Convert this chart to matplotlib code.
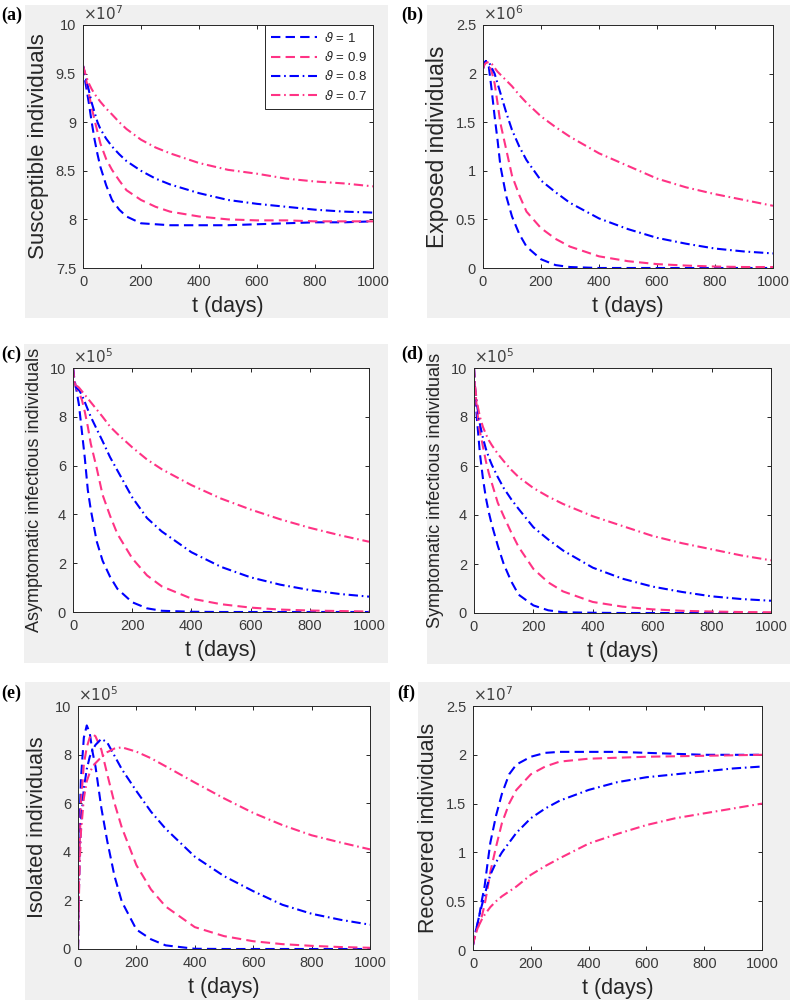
import matplotlib
matplotlib.use("Agg")
import matplotlib.pyplot as plt
from matplotlib.patches import Rectangle
from matplotlib.ticker import FuncFormatter

# time grid (days), shared by all curves
t = [0, 2, 5, 10, 20, 30, 40, 50, 60, 80, 100, 125, 150, 200, 250, 300,
     400, 500, 600, 700, 800, 900, 1000]

labels = [r'$\vartheta$ = 1', r'$\vartheta$ = 0.9', r'$\vartheta$ = 0.8', r'$\vartheta$ = 0.7']

# (a) susceptible, x1e7
S_1 = [9.58, 9.54, 9.47, 9.38, 9.2, 9.0, 8.82, 8.67, 8.54, 8.35, 8.2, 8.1, 8.03, 7.96, 7.95, 7.94,
       7.94, 7.94, 7.95, 7.96, 7.97, 7.97, 7.98]
S_09 = [9.58, 9.56, 9.52, 9.45, 9.3, 9.15, 9.02, 8.9, 8.78, 8.62, 8.51, 8.4, 8.3, 8.2, 8.13, 8.08,
        8.03, 8.0, 7.99, 7.99, 7.98, 7.98, 7.98]
S_08 = [9.58, 9.56, 9.52, 9.45, 9.33, 9.2, 9.1, 9.0, 8.93, 8.83, 8.75, 8.67, 8.6, 8.5, 8.42, 8.36,
        8.27, 8.2, 8.16, 8.13, 8.1, 8.08, 8.07]
S_07 = [9.58, 9.56, 9.53, 9.48, 9.4, 9.34, 9.29, 9.25, 9.21, 9.14, 9.08, 9.0, 8.93, 8.82, 8.74, 8.68,
        8.58, 8.51, 8.47, 8.42, 8.39, 8.37, 8.34]

# (b) exposed, x1e6
E_1 = [2.05, 2.08, 2.11, 2.13, 2.07, 1.83, 1.56, 1.32, 1.05, 0.74, 0.53, 0.35, 0.22, 0.09, 0.03, 0.01,
       0.0, 0.0, 0.0, 0.0, 0.0, 0.0, 0.0]
E_09 = [2.05, 2.08, 2.1, 2.12, 2.1, 2.02, 1.9, 1.7, 1.49, 1.22, 0.95, 0.75, 0.58, 0.41, 0.3, 0.22,
        0.12, 0.07, 0.04, 0.025, 0.015, 0.01, 0.01]
E_08 = [2.05, 2.08, 2.11, 2.13, 2.12, 2.06, 2.0, 1.9, 1.8, 1.6, 1.42, 1.25, 1.11, 0.9, 0.78, 0.67,
        0.51, 0.4, 0.31, 0.25, 0.2, 0.17, 0.15]
E_07 = [2.05, 2.07, 2.09, 2.11, 2.12, 2.1, 2.06, 2.02, 1.99, 1.93, 1.87, 1.78, 1.7, 1.56, 1.45, 1.35,
        1.18, 1.05, 0.92, 0.83, 0.76, 0.7, 0.64]

# (c) asymptomatic infectious, x1e5
A_1 = [10, 9.8, 9.5, 9.2, 8.5, 7.4, 6.3, 5.0, 4.2, 2.9, 2.1, 1.45, 0.95, 0.4, 0.15, 0.05,
       0.01, 0.0, 0.0, 0.0, 0.0, 0.0, 0.0]
A_09 = [10, 9.8, 9.5, 9.2, 9.0, 8.7, 8.2, 7.6, 6.9, 5.9, 4.8, 3.95, 3.2, 2.2, 1.5, 1.05,
        0.55, 0.32, 0.18, 0.1, 0.06, 0.04, 0.02]
A_08 = [10, 9.7, 9.4, 9.2, 9.1, 8.9, 8.6, 8.3, 8.0, 7.5, 7.0, 6.35, 5.8, 4.7, 3.85, 3.3,
        2.45, 1.85, 1.42, 1.12, 0.9, 0.74, 0.63]
A_07 = [10, 9.7, 9.4, 9.3, 9.2, 9.05, 8.9, 8.75, 8.6, 8.3, 8.0, 7.6, 7.3, 6.75, 6.25, 5.85,
        5.2, 4.65, 4.2, 3.8, 3.45, 3.15, 2.88]

# (d) symptomatic infectious, x1e5
I_1 = [10, 9.3, 8.8, 7.9, 6.5, 5.5, 4.7, 4.1, 3.6, 2.75, 2.0, 1.3, 0.75, 0.31, 0.11, 0.03,
       0.01, 0.0, 0.0, 0.0, 0.0, 0.0, 0.0]
I_09 = [10, 9.4, 9.0, 8.3, 7.4, 6.8, 6.2, 5.7, 5.3, 4.5, 3.95, 3.3, 2.7, 1.8, 1.25, 0.88,
        0.45, 0.26, 0.15, 0.09, 0.06, 0.04, 0.03]
I_08 = [10, 9.4, 9.0, 8.5, 7.7, 7.15, 6.7, 6.35, 6.05, 5.55, 5.1, 4.65, 4.25, 3.5, 3.0, 2.55,
        1.85, 1.4, 1.08, 0.86, 0.68, 0.57, 0.5]
I_07 = [10, 9.5, 9.1, 8.6, 8.0, 7.6, 7.3, 7.05, 6.85, 6.5, 6.2, 5.85, 5.55, 5.1, 4.75, 4.45,
        3.95, 3.55, 3.15, 2.85, 2.6, 2.35, 2.15]

# (e) isolated, x1e5
Q_1 = [0, 2.2, 5.0, 7.0, 8.7, 9.2, 8.9, 8.1, 7.5, 5.8, 4.45, 3.0, 1.95, 0.8, 0.4, 0.15,
       0.01, 0.0, 0.0, 0.0, 0.0, 0.0, 0.0]
Q_09 = [0, 1.9, 4.0, 6.0, 7.6, 8.3, 8.7, 8.85, 8.75, 8.2, 7.2, 6.0, 5.0, 3.45, 2.45, 1.75,
        0.9, 0.53, 0.32, 0.2, 0.13, 0.08, 0.05]
Q_08 = [0, 1.6, 3.5, 5.2, 6.6, 7.4, 7.9, 8.2, 8.4, 8.65, 8.5, 7.95, 7.4, 6.5, 5.65, 4.95,
        3.8, 3.0, 2.38, 1.82, 1.45, 1.2, 1.0]
Q_07 = [0, 1.4, 3.2, 4.8, 6.2, 6.9, 7.25, 7.5, 7.65, 7.9, 8.1, 8.25, 8.3, 8.12, 7.85, 7.52,
        6.85, 6.2, 5.6, 5.1, 4.68, 4.38, 4.1]

# (f) recovered, x1e7
R_1 = [0.05, 0.1, 0.15, 0.2, 0.32, 0.5, 0.65, 0.88, 1.1, 1.38, 1.6, 1.8, 1.9, 1.98, 2.02, 2.03,
       2.03, 2.03, 2.02, 2.01, 2.0, 2.0, 2.0]
R_09 = [0.05, 0.08, 0.12, 0.17, 0.26, 0.34, 0.46, 0.62, 0.8, 1.06, 1.3, 1.5, 1.64, 1.8, 1.88, 1.93,
        1.96, 1.97, 1.98, 1.985, 1.99, 1.995, 2.0]
R_08 = [0.05, 0.08, 0.14, 0.2, 0.33, 0.45, 0.56, 0.67, 0.77, 0.9, 1.0, 1.1, 1.2, 1.35, 1.45, 1.53,
        1.64, 1.72, 1.77, 1.8, 1.83, 1.86, 1.88]
R_07 = [0.05, 0.08, 0.12, 0.17, 0.25, 0.31, 0.36, 0.4, 0.44, 0.5, 0.55, 0.6, 0.65, 0.77, 0.86, 0.94,
        1.09, 1.19, 1.28, 1.35, 1.4, 1.45, 1.5]

W, H = 791, 1001
BLUE = '#0000ff'
PINK = '#ff3385'
GRAY = '#f0f0f0'
TXT = '#262626'
TICK = '#3a3a3a'

plt.rcParams['font.family'] = ['Liberation Sans', 'DejaVu Sans']
plt.rcParams['mathtext.fontset'] = 'dejavusans'

fig = plt.figure(figsize=(W / 100, H / 100), dpi=100)
fig.patch.set_facecolor('white')


def px_axes(x0, y0, x1, y1):
    return fig.add_axes([x0 / W, 1 - y1 / H, (x1 - x0) / W, (y1 - y0) / H])


def gray_box(x0, y0, x1, y1):
    fig.add_artist(Rectangle((x0 / W, 1 - y1 / H), (x1 - x0) / W, (y1 - y0) / H,
                             transform=fig.transFigure, facecolor=GRAY,
                             edgecolor='none', zorder=-5))


panels = [
    # tag, gray box, axes box, series, ylim, yticks, exponent, ylabel, ylabel size, tag pos
    ('(a)', (25, 5, 388, 318), (83, 25, 373, 268), [S_1, S_09, S_08, S_07],
     (7.5, 10), [7.5, 8, 8.5, 9, 9.5, 10], '7', 'Susceptible individuals', 16, (1, 15)),
    ('(b)', (427, 5, 790, 318), (483, 25, 773, 268), [E_1, E_09, E_08, E_07],
     (0, 2.5), [0, 0.5, 1, 1.5, 2, 2.5], '6', 'Exposed individuals', 16.5, (401, 15)),
    ('(c)', (24, 344, 388, 663), (73, 368, 369, 612), [A_1, A_09, A_08, A_07],
     (0, 10), [0, 2, 4, 6, 8, 10], '5', 'Asymptomatic infectious individuals', 13, (1, 354)),
    ('(d)', (427, 344, 790, 664), (474, 368, 771, 613), [I_1, I_09, I_08, I_07],
     (0, 10), [0, 2, 4, 6, 8, 10], '5', 'Symptomatic infectious individuals', 13, (401, 354)),
    ('(e)', (25, 682, 390, 1000), (78, 706, 370, 949), [Q_1, Q_09, Q_08, Q_07],
     (0, 10), [0, 2, 4, 6, 8, 10], '5', 'Isolated individuals', 15.5, (1, 693)),
    ('(f)', (418, 682, 790, 1000), (473, 706, 762, 950), [R_1, R_09, R_08, R_07],
     (0, 2.5), [0, 0.5, 1, 1.5, 2, 2.5], '7', 'Recovered individuals', 15.5, (397, 693)),
]

colors = [BLUE, PINK, BLUE, PINK]
dashes = [(4.5, 2.5), (4.5, 2.5), (4.5, 1.8, 0.8, 1.8), (4.5, 1.8, 0.8, 1.8)]

for i, (tag, gbox, abox, series, ylim, yticks, expo, ylab, ysz, tpos) in enumerate(panels):
    gray_box(*gbox)
    ax = px_axes(*abox)
    for s, c, d, lab in zip(series, colors, dashes, labels):
        ax.plot(t, s, color=c, lw=1.5, dashes=d, label=lab)
    ax.set_xlim(0, 1000)
    ax.set_ylim(*ylim)
    ax.set_xticks([0, 200, 400, 600, 800, 1000])
    ax.set_yticks(yticks)
    ax.yaxis.set_major_formatter(FuncFormatter(lambda v, p: '%g' % v))
    ax.tick_params(direction='in', length=3, width=0.7, color=TXT, labelcolor=TICK,
                   labelsize=10.5, top=True, right=True, pad=5)
    for sp in ax.spines.values():
        sp.set_color(TXT)
        sp.set_linewidth(0.7)
    ax.set_xlabel('t (days)', fontsize=15.5, color=TXT, labelpad=5)
    ax.set_ylabel(ylab, fontsize=ysz, color=TXT, labelpad=5)
    ax.text(0.0, 1.01, r'$\times10^{%s}$' % expo, transform=ax.transAxes,
            fontsize=11, color='#404040', ha='left', va='bottom')
    fig.text(tpos[0] / W, 1 - tpos[1] / H, tag, fontsize=13, fontweight='bold',
             family='Liberation Serif', ha='left', va='center')
    if i == 0:
        leg = ax.legend(loc='upper right', fontsize=9.5, handlelength=3.5,
                        labelspacing=0.4, borderaxespad=0.0, fancybox=False,
                        framealpha=1, edgecolor=TXT, borderpad=0.45,
                        handletextpad=0.5)
        leg.get_frame().set_linewidth(0.7)
        for txt in leg.get_texts():
            txt.set_color(TXT)

fig.savefig('out.png', dpi=100)
